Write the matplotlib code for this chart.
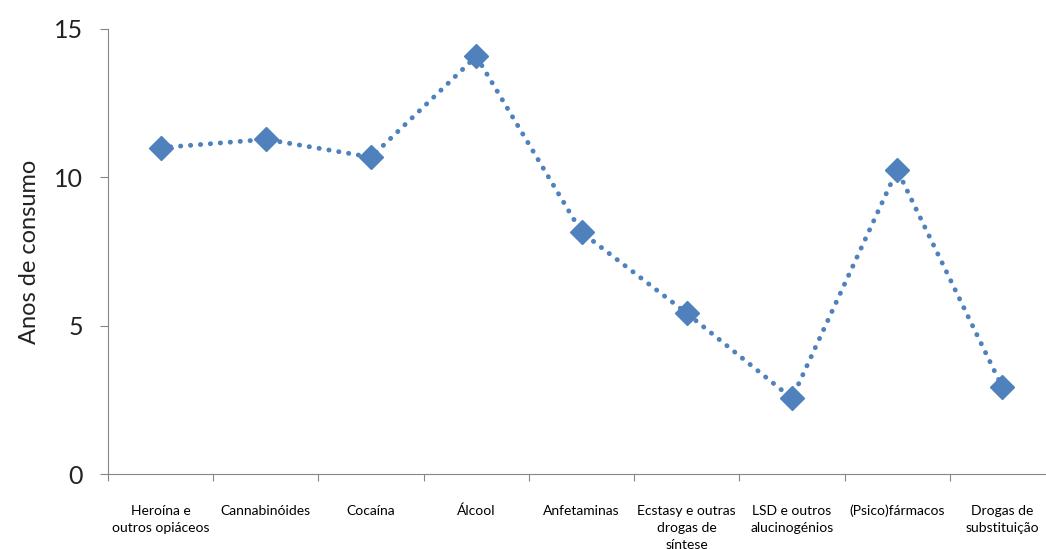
import matplotlib
matplotlib.use("Agg")
import matplotlib.pyplot as plt
import numpy as np

# average years of use per substance
categorias = ["Heroína e\noutros opiáceos", "Cannabinóides", "Cocaína", "Álcool",
              "Anfetaminas", "Ecstasy e outras\ndrogas de\nsíntese",
              "LSD e outros\nalucinogénios", "(Psico)fármacos", "Drogas de\nsubstituição"]
anos = [11.0, 11.28, 10.68, 14.08, 8.15, 5.42, 2.55, 10.25, 2.92]

plt.rcParams['font.family'] = ['Lato', 'DejaVu Sans']

fig = plt.figure(figsize=(10.46, 5.49), dpi=100)
ax = fig.add_axes([0.1033, 0.1366, 0.9053, 0.8106])

x = np.arange(len(categorias))
ax.plot(x, anos, linestyle=(0, (0.05, 2.0)), color='#4F81BD', linewidth=3.5,
        dash_capstyle='round', marker='D', markersize=12, markerfacecolor='#4F81BD',
        markeredgecolor='#4F81BD', clip_on=False)

ax.set_xlim(-0.5, len(categorias) - 0.5)
ax.set_ylim(0, 15)
ax.set_yticks([0, 5, 10, 15])
ax.tick_params(axis='y', labelsize=18, length=6, color='#868686', pad=12, labelcolor='#222222')

# boundary ticks between categories, labels centred in each slot
ax.set_xticks(np.arange(-0.5, len(categorias), 1.0))
ax.set_xticklabels([])
ax.set_xticks(x, minor=True)
ax.set_xticklabels(categorias, minor=True, fontsize=10, linespacing=1.5, va='top')
ax.tick_params(axis='x', which='major', length=5, color='#868686')
ax.tick_params(axis='x', which='minor', length=0, pad=22)

for side in ['top', 'right']:
    ax.spines[side].set_visible(False)
ax.spines['left'].set_color('#868686')
ax.spines['bottom'].set_color('#868686')

ax.set_ylabel('Anos de consumo', fontsize=17, labelpad=10, color='#222222')

fig.savefig('out.png', dpi=100)
